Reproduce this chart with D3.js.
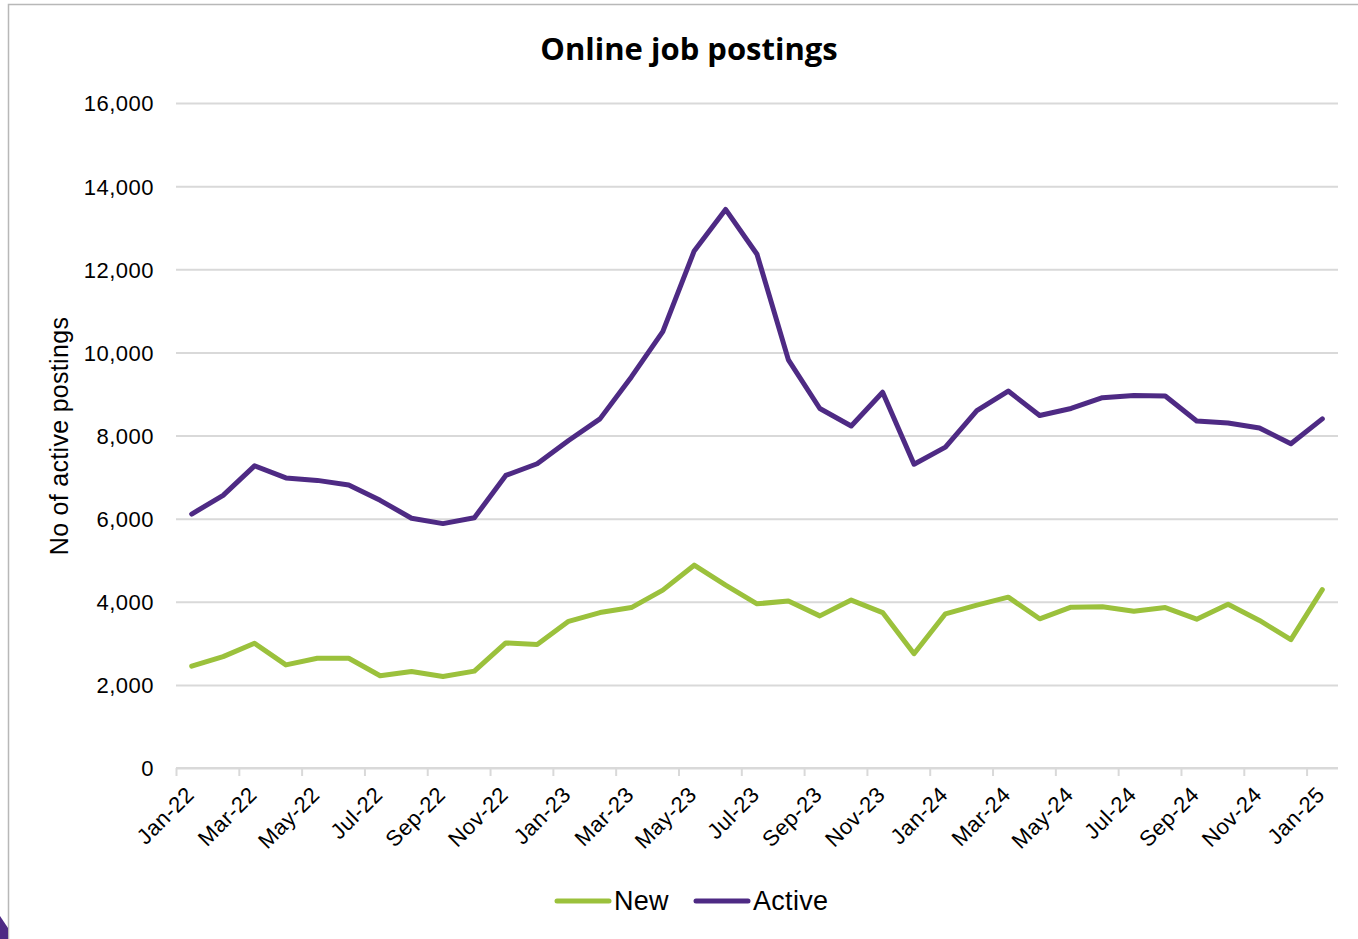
<!DOCTYPE html>
<html>
<head>
<meta charset="utf-8">
<script src="https://cdn.jsdelivr.net/npm/d3@7"></script>
<style>
  html, body { margin: 0; padding: 0; background: #fff; }
  svg { display: block; }
</style>
</head>
<body>
<svg id="chart" width="1358" height="939"></svg>
<script>
// Monthly categories, Jan 2022 – Jan 2025
const months = [
  "Jan-22","Feb-22","Mar-22","Apr-22","May-22","Jun-22","Jul-22","Aug-22","Sep-22","Oct-22","Nov-22","Dec-22",
  "Jan-23","Feb-23","Mar-23","Apr-23","May-23","Jun-23","Jul-23","Aug-23","Sep-23","Oct-23","Nov-23","Dec-23",
  "Jan-24","Feb-24","Mar-24","Apr-24","May-24","Jun-24","Jul-24","Aug-24","Sep-24","Oct-24","Nov-24","Dec-24",
  "Jan-25"
];

// New postings per month
const newPostings = [
  2450, 2680, 3000, 2480, 2640, 2640, 2220, 2320, 2200, 2330, 3010, 2970,
  3530, 3740, 3860, 4280, 4880, 4400, 3950, 4020, 3660, 4040, 3740, 2750,
  3710, 3920, 4110, 3590, 3870, 3880, 3770, 3860, 3580, 3940, 3550, 3090,
  4290
];

// Active postings per month
const activePostings = [
  6110, 6560, 7270, 6980, 6920, 6810, 6440, 6010, 5880, 6020, 7040, 7320,
  7880, 8400, 9410, 10500, 12440, 13440, 12360, 9820, 8650, 8230, 9040, 7310,
  7720, 8600, 9070, 8480, 8650, 8910, 8960, 8950, 8350, 8300, 8180, 7800,
  8400
];

const yTicks = [0, 2000, 4000, 6000, 8000, 10000, 12000, 14000, 16000];

const seriesNames = ["New", "Active"];
const seriesColors = ["#9bc13c", "#4e2a84"];

const svg = d3.select("#chart");
const W = 1358, H = 939;
const plotLeft = 176, plotRight = 1338, plotTop = 103, plotBottom = 768;

// Outer frame and corner accent
svg.append("rect")
  .attr("x", 8.5).attr("y", 4.5)
  .attr("width", W + 10).attr("height", H + 10)
  .attr("fill", "#fff").attr("stroke", "#b8b8b8").attr("stroke-width", 1.5);
svg.append("path")
  .attr("d", "M0,916 L8,928 L8,939 L0,939 Z")
  .attr("fill", "#4e2a84");

// Scales: x is a continuous index over month slots, points sit mid-slot
const x = d3.scaleLinear().domain([0, months.length]).range([plotLeft, plotRight]);
const y = d3.scaleLinear().domain([0, 16000]).range([plotBottom, plotTop]);

const textFont = "'Liberation Sans', Arial, sans-serif";

// Gridlines + y labels
const yAxis = svg.append("g")
  .attr("transform", `translate(${plotLeft},0)`)
  .call(d3.axisLeft(y).tickValues(yTicks).tickSize(-(plotRight - plotLeft)).tickPadding(22).tickFormat(d3.format(",")));
yAxis.select(".domain").remove();
yAxis.selectAll(".tick line").attr("stroke", "#d9d9d9").attr("stroke-width", 2);
yAxis.selectAll(".tick text")
  .attr("font-family", textFont).attr("font-size", 22).attr("letter-spacing", 0.5).attr("fill", "#000")
  .attr("dy", "0.36em");

// X axis with ticks at slot boundaries every two months
const tickIdx = d3.range(0, months.length, 2);
const xAxis = svg.append("g")
  .attr("transform", `translate(0,${plotBottom})`)
  .call(d3.axisBottom(x).tickValues(tickIdx).tickSize(8).tickFormat(i => months[i]));
xAxis.select(".domain").attr("stroke", "#d9d9d9").attr("stroke-width", 2)
  .attr("d", `M${plotLeft},0H${plotRight}`);
xAxis.selectAll(".tick line").attr("stroke", "#d9d9d9").attr("stroke-width", 2);
xAxis.selectAll(".tick text")
  .attr("font-family", textFont).attr("font-size", 22).attr("letter-spacing", 0.5).attr("fill", "#000")
  .attr("text-anchor", "end")
  .attr("dy", null).attr("y", null)
  .attr("transform", "translate(19,28) rotate(-45)");

// Y axis title
svg.append("text")
  .attr("transform", `translate(68,436) rotate(-90)`)
  .attr("text-anchor", "middle")
  .attr("font-family", textFont).attr("font-size", 25).attr("letter-spacing", 0.3).attr("fill", "#000")
  .text("No of active postings");

// Title
svg.append("text")
  .attr("x", 689).attr("y", 60)
  .attr("text-anchor", "middle")
  .attr("font-family", "'Open Sans', 'Liberation Sans', sans-serif")
  .attr("font-weight", "bold").attr("font-size", 31).attr("fill", "#000")
  .text("Online job postings");

// Lines
const line = d3.line()
  .x((d, i) => x(i + 0.5))
  .y(d => y(d));

[newPostings, activePostings].forEach((vals, k) => {
  svg.append("path")
    .datum(vals)
    .attr("d", line)
    .attr("fill", "none")
    .attr("stroke", seriesColors[k])
    .attr("stroke-width", 5)
    .attr("stroke-linejoin", "round")
    .attr("stroke-linecap", "round");
});

// Legend
const legendX = [557, 696];
const legend = svg.append("g");
seriesNames.forEach((name, k) => {
  legend.append("line")
    .attr("x1", legendX[k]).attr("x2", legendX[k] + 52)
    .attr("y1", 901).attr("y2", 901)
    .attr("stroke", seriesColors[k]).attr("stroke-width", 5)
    .attr("stroke-linecap", "round");
  legend.append("text")
    .attr("x", legendX[k] + 57).attr("y", 910)
    .attr("font-family", textFont).attr("font-size", 27).attr("letter-spacing", 0.3).attr("fill", "#000")
    .text(name);
});
</script>
</body>
</html>
